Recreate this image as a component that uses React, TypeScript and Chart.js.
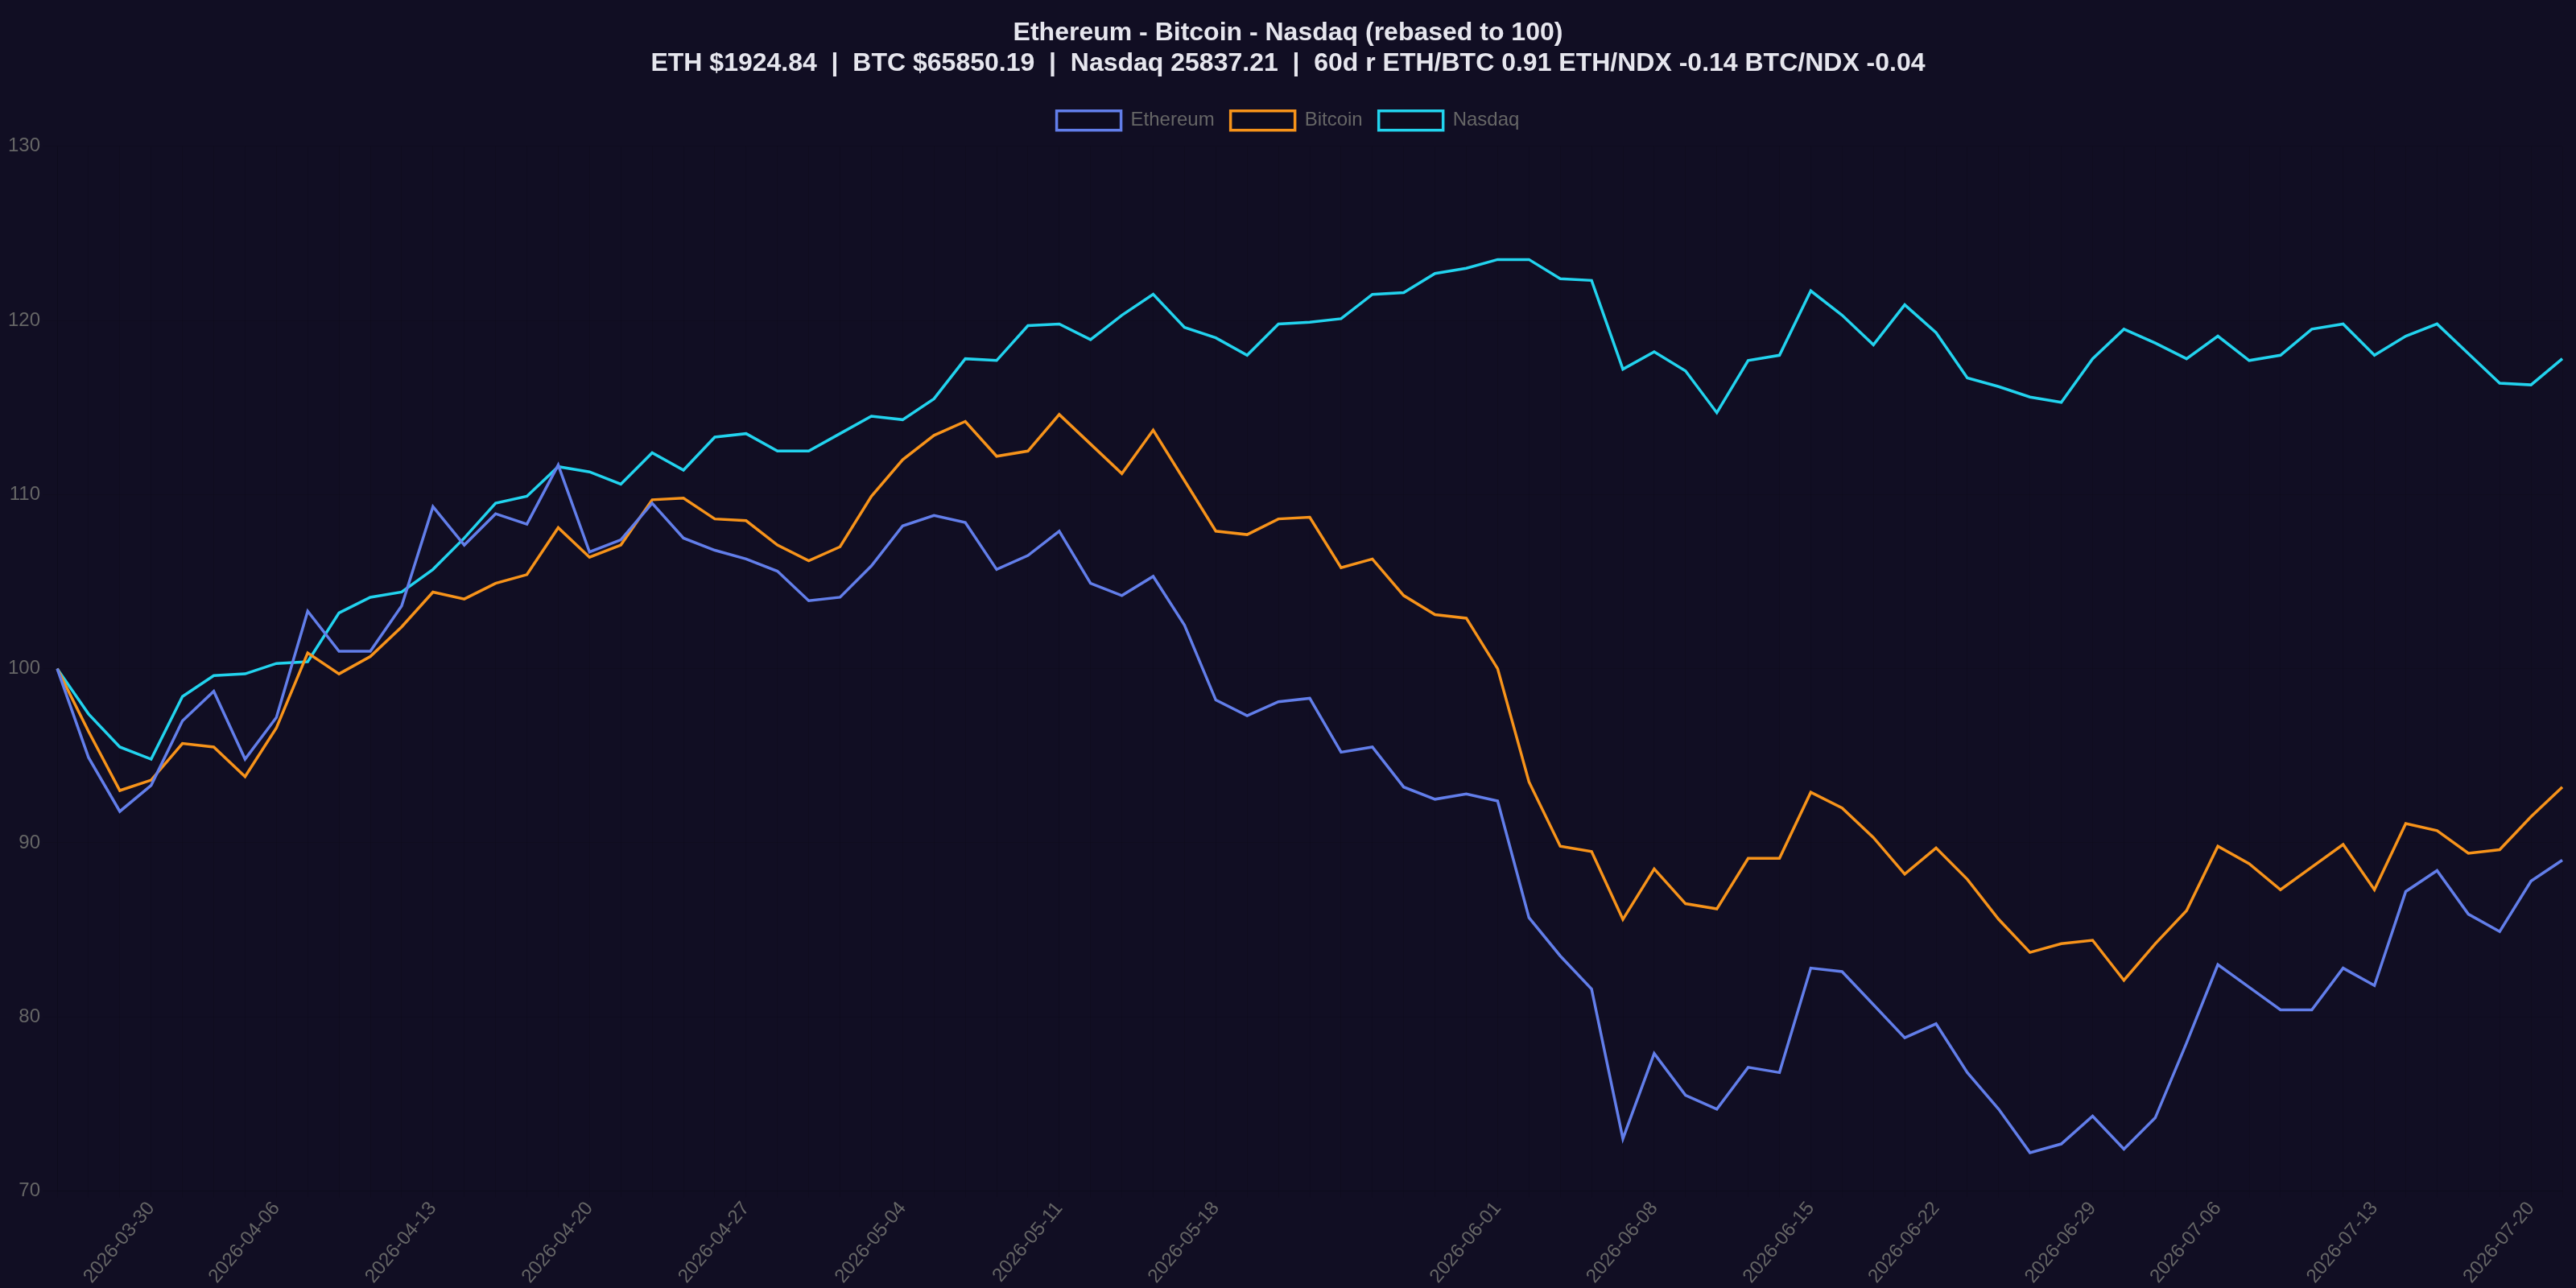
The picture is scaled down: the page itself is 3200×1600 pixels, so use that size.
import React, { useEffect, useRef } from 'react';
import { Chart, registerables } from 'chart.js';

Chart.register(...registerables);

const dates = [
  '2026-03-25', '2026-03-26', '2026-03-27', '2026-03-30', '2026-03-31', '2026-04-01', '2026-04-02',
  '2026-04-06', '2026-04-07', '2026-04-08', '2026-04-09', '2026-04-10',
  '2026-04-13', '2026-04-14', '2026-04-15', '2026-04-16', '2026-04-17',
  '2026-04-20', '2026-04-21', '2026-04-22', '2026-04-23', '2026-04-24',
  '2026-04-27', '2026-04-28', '2026-04-29', '2026-04-30', '2026-05-01',
  '2026-05-04', '2026-05-05', '2026-05-06', '2026-05-07', '2026-05-08',
  '2026-05-11', '2026-05-12', '2026-05-13', '2026-05-14', '2026-05-15',
  '2026-05-18', '2026-05-19', '2026-05-20', '2026-05-21', '2026-05-22',
  '2026-05-26', '2026-05-27', '2026-05-28', '2026-05-29',
  '2026-06-01', '2026-06-02', '2026-06-03', '2026-06-04', '2026-06-05',
  '2026-06-08', '2026-06-09', '2026-06-10', '2026-06-11', '2026-06-12',
  '2026-06-15', '2026-06-16', '2026-06-17', '2026-06-18',
  '2026-06-22', '2026-06-23', '2026-06-24', '2026-06-25', '2026-06-26',
  '2026-06-29', '2026-06-30', '2026-07-01', '2026-07-02',
  '2026-07-06', '2026-07-07', '2026-07-08', '2026-07-09', '2026-07-10',
  '2026-07-13', '2026-07-14', '2026-07-15', '2026-07-16', '2026-07-17',
  '2026-07-20', '2026-07-21',
];

const tickDates = [
  '2026-03-30', '2026-04-06', '2026-04-13', '2026-04-20', '2026-04-27', '2026-05-04',
  '2026-05-11', '2026-05-18', '2026-06-01', '2026-06-08', '2026-06-15', '2026-06-22',
  '2026-06-29', '2026-07-06', '2026-07-13', '2026-07-20',
];

const ethereum = [
  100, 94.9, 91.8, 93.3, 97.0, 98.7, 94.8, 97.2, 103.3, 101.0,
  101.0, 103.6, 109.3, 107.1, 108.9, 108.3, 111.7, 106.7, 107.4, 109.5,
  107.5, 106.8, 106.3, 105.6, 103.9, 104.1, 105.9, 108.2, 108.8, 108.4,
  105.7, 106.5, 107.9, 104.9, 104.2, 105.3, 102.5, 98.2, 97.3, 98.1,
  98.3, 95.2, 95.5, 93.2, 92.5, 92.8, 92.4, 85.7, 83.5, 81.6,
  73.0, 77.9, 75.5, 74.7, 77.1, 76.8, 82.8, 82.6, 80.7, 78.8,
  79.6, 76.8, 74.7, 72.2, 72.7, 74.3, 72.4, 74.2, 78.5, 83.0,
  81.7, 80.4, 80.4, 82.8, 81.8, 87.2, 88.4, 85.9, 84.9, 87.8,
  89.0,
];

const bitcoin = [
  100, 96.4, 93.0, 93.6, 95.7, 95.5, 93.8, 96.6, 100.9, 99.7,
  100.7, 102.4, 104.4, 104.0, 104.9, 105.4, 108.1, 106.4, 107.1, 109.7,
  109.8, 108.6, 108.5, 107.1, 106.2, 107.0, 109.9, 112.0, 113.4, 114.2,
  112.2, 112.5, 114.6, 112.9, 111.2, 113.7, 110.8, 107.9, 107.7, 108.6,
  108.7, 105.8, 106.3, 104.2, 103.1, 102.9, 100.0, 93.5, 89.8, 89.5,
  85.6, 88.5, 86.5, 86.2, 89.1, 89.1, 92.9, 92.0, 90.3, 88.2,
  89.7, 87.9, 85.6, 83.7, 84.2, 84.4, 82.1, 84.2, 86.1, 89.8,
  88.8, 87.3, 88.6, 89.9, 87.3, 91.1, 90.7, 89.4, 89.6, 91.5,
  93.2,
];

const nasdaq = [
  100, 97.4, 95.5, 94.8, 98.4, 99.6, 99.7, 100.3, 100.4, 103.2,
  104.1, 104.4, 105.7, 107.5, 109.5, 109.9, 111.6, 111.3, 110.6, 112.4,
  111.4, 113.3, 113.5, 112.5, 112.5, 113.5, 114.5, 114.3, 115.5, 117.8,
  117.7, 119.7, 119.8, 118.9, 120.3, 121.5, 119.6, 119.0, 118.0, 119.8,
  119.9, 120.1, 121.5, 121.6, 122.7, 123.0, 123.5, 123.5, 122.4, 122.3,
  117.2, 118.2, 117.1, 114.7, 117.7, 118.0, 121.7, 120.3, 118.6, 120.9,
  119.3, 116.7, 116.2, 115.6, 115.3, 117.8, 119.5, 118.7, 117.8, 119.1,
  117.7, 118.0, 119.5, 119.8, 118.0, 119.1, 119.8, 118.1, 116.4, 116.3,
  117.8,
];

const seriesNames = ['Ethereum', 'Bitcoin', 'Nasdaq'];
const seriesColors = ['#627eea', '#f7931a', '#22d3ee'];

const titleLines = [
  'Ethereum - Bitcoin - Nasdaq (rebased to 100)',
  'ETH $1924.84  |  BTC $65850.19  |  Nasdaq 25837.21  |  60d r ETH/BTC 0.91 ETH/NDX -0.14 BTC/NDX -0.04',
];

const yMin = 70;
const yMax = 130;
const yStep = 10;

const BG = '#110e23';

export default function App() {
  const canvasRef = useRef<HTMLCanvasElement | null>(null);

  useEffect(() => {
    document.body.style.margin = '0';
    document.body.style.background = BG;
    document.body.style.overflow = 'hidden';
    const canvas = canvasRef.current;
    if (!canvas) return;
    const values = [ethereum, bitcoin, nasdaq];
    const tickSet = new Set(tickDates);

    const legendSpacer = {
      id: 'legendSpacer',
      beforeInit(chart: any) {
        const origFit = chart.legend.fit;
        chart.legend.fit = function fit() {
          origFit.bind(chart.legend)();
          this.height += 10;
        };
      },
    };

    const chart = new Chart(canvas, {
      type: 'line',
      data: {
        labels: dates,
        datasets: seriesNames.map((name, i) => ({
          label: name,
          data: values[i],
          borderColor: seriesColors[i],
          borderWidth: 3.5,
          pointRadius: 0,
          pointHoverRadius: 0,
          tension: 0,
          fill: false,
        })),
      },
      options: {
        animation: false,
        responsive: true,
        maintainAspectRatio: false,
        layout: { padding: { left: 7, right: 7, top: 0, bottom: 0 } },
        plugins: {
          title: {
            display: true,
            text: titleLines,
            color: '#e6e6ee',
            font: { size: 32, weight: 'bold' },
            padding: { top: 22, bottom: 19 },
          },
          legend: {
            display: true,
            labels: {
              boxWidth: 80,
              boxHeight: 24,
              padding: 20,
              font: { size: 24 },
            },
          },
          tooltip: { enabled: false },
        },
        scales: {
          x: {
            type: 'category',
            ticks: {
              autoSkip: false,
              maxRotation: 50,
              padding: 0,
              font: { size: 24 },
              callback: function (_v: any, index: number) {
                const d = dates[index];
                return tickSet.has(d) ? d : '';
              },
            },
            afterFit: (scale: any) => {
              scale.paddingRight = 17;
            },
          },
          y: {
            min: yMin,
            max: yMax,
            grid: { tickLength: 18 },
            ticks: {
              stepSize: yStep,
              padding: 3,
              font: { size: 24 },
            },
          },
        },
      },
      plugins: [legendSpacer],
    } as any);

    return () => chart.destroy();
  }, []);

  return (
    <div style={{ position: 'relative', width: 3200, height: 1600, background: BG }}>
      <canvas ref={canvasRef} />
    </div>
  );
}
